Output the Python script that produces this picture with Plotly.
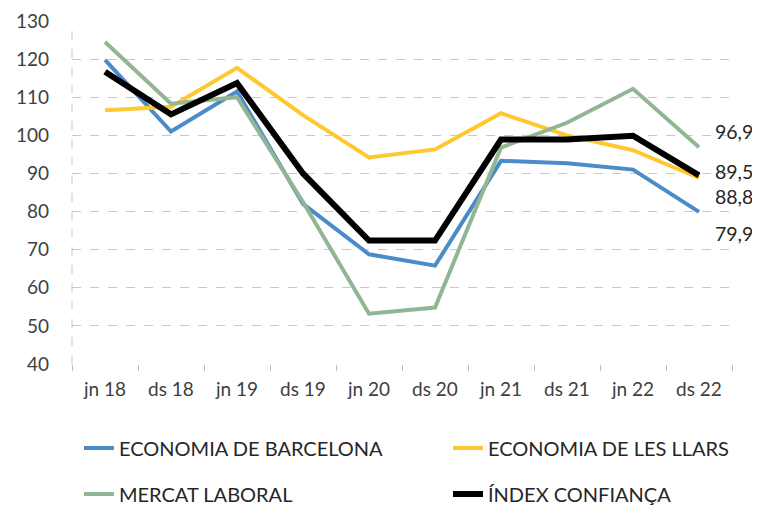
import plotly.graph_objects as go

categories = ["jn 18", "ds 18", "jn 19", "ds 19", "jn 20", "ds 20", "jn 21", "ds 21", "jn 22", "ds 22"]
economia_bcn = [119.8, 101.0, 111.5, 82.0, 68.8, 65.8, 93.3, 92.7, 91.0, 79.9]
economia_llars = [106.6, 107.5, 117.7, 105.3, 94.2, 96.3, 105.8, 100.0, 96.1, 88.8]
mercat_laboral = [124.5, 108.3, 110.0, 82.5, 53.2, 54.8, 96.8, 103.3, 112.2, 96.9]
index_confianca = [116.7, 105.5, 113.7, 90.0, 72.4, 72.4, 98.9, 98.9, 99.9, 89.5]
y_ticks = [40, 50, 60, 70, 80, 90, 100, 110, 120, 130]

series = [
    ("ECONOMIA DE BARCELONA", economia_bcn, "#4A8BC8", 4, "legend"),
    ("ECONOMIA DE LES LLARS", economia_llars, "#FFC830", 4, "legend2"),
    ("MERCAT LABORAL", mercat_laboral, "#92B693", 4, "legend3"),
    ("ÍNDEX CONFIANÇA", index_confianca, "#000000", 6, "legend4"),
]
label_shift = {"ECONOMIA DE BARCELONA": -22, "ECONOMIA DE LES LLARS": -18,
               "MERCAT LABORAL": 16, "ÍNDEX CONFIANÇA": 4}

# page body has an 8px default margin: figure is 752x498 placed at (8, 8)
W, H, OFF = 752, 498, 8

font = "Lato, 'Open Sans', sans-serif"
fig = go.Figure()
for name, vals, color, w, lg in series:
    fig.add_trace(go.Scatter(x=categories, y=vals, mode="lines", name=name,
                             line=dict(color=color, width=w), legend=lg))

for name, vals, color, w, lg in series:
    fig.add_annotation(x=categories[-1], y=vals[-1], text=f"{vals[-1]:.1f}".replace(".", ","),
                       showarrow=False, xanchor="left", yanchor="middle",
                       xshift=14, yshift=label_shift[name],
                       font=dict(family=font, size=19.5, color="#262626"))

fig.add_shape(type="line", xref="paper", yref="paper", x0=0, x1=0, y0=0, y1=1,
              line=dict(color="#C8C8C8", width=1, dash="dash"))

def leg(xs, ys):
    return dict(orientation="h", xref="container", yref="container",
                xanchor="left", yanchor="middle",
                x=(xs - OFF) / W, y=1 - (ys - OFF) / H,
                font=dict(family=font, size=20, color="#262626"))

fig.update_layout(
    width=W, height=H,
    margin=dict(l=72 - OFF, r=28, t=21 - OFF, b=142),
    plot_bgcolor="white", paper_bgcolor="white",
    font=dict(family=font, size=19, color="#404040"),
    showlegend=True,
    legend=leg(79, 448),
    legend2=leg(448, 448),
    legend3=leg(79, 494),
    legend4=leg(448, 494),
)
fig.update_xaxes(type="category", range=[-0.5, 9.5], showgrid=False, showline=False,
                 zeroline=False, ticks="outside", tickson="boundaries", ticklen=6,
                 tickcolor="#BFBFBF", ticklabelstandoff=12, automargin=False,
                 tickfont=dict(family=font, size=19, color="#404040"))
fig.update_yaxes(range=[40, 130], tickvals=y_ticks, showgrid=True, gridcolor="#C8C8C8",
                 griddash="dash", gridwidth=1, zeroline=False, showline=False,
                 ticks="", ticklabelstandoff=22, automargin=False,
                 tickfont=dict(family=font, size=19, color="#404040"))

fig.write_html("out.html")
